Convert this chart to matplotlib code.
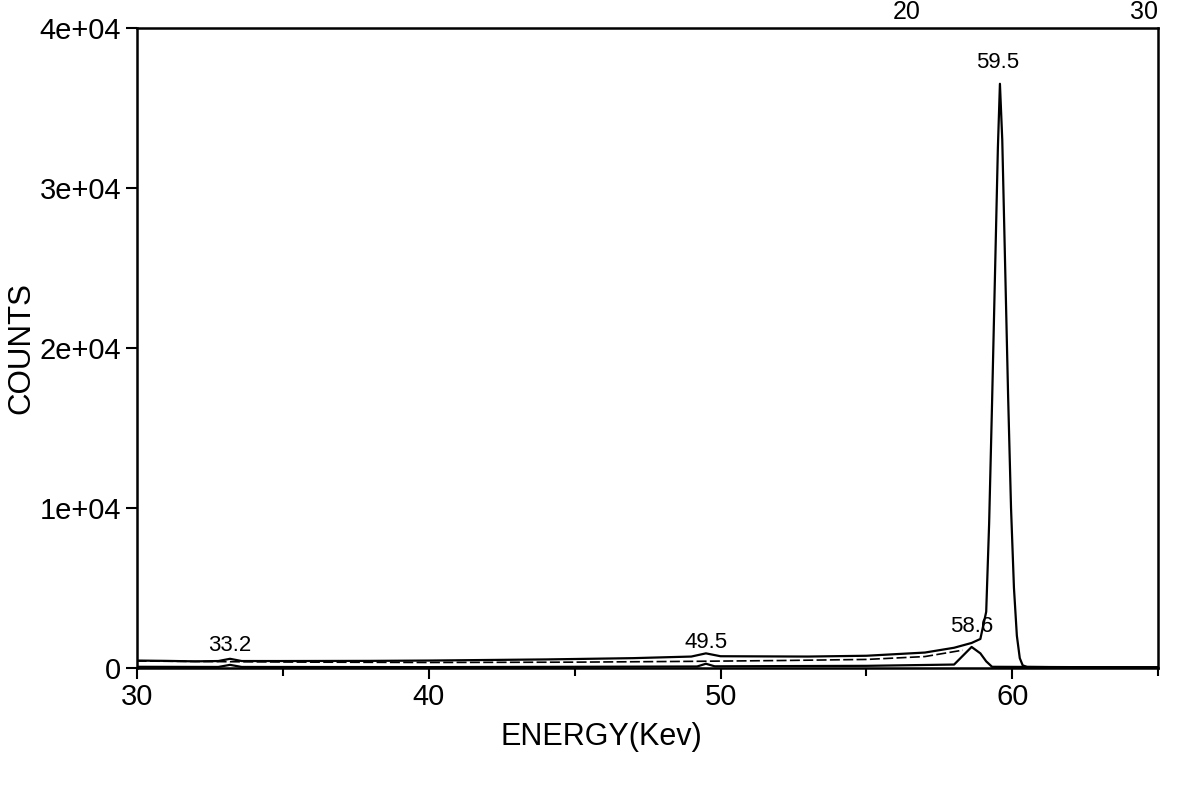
import numpy as np
import matplotlib.pyplot as plt
from matplotlib.ticker import MultipleLocator

plt.rcParams['font.family'] = ['Liberation Sans', 'DejaVu Sans']

# spectrum (upper trace)
energy = [30, 31, 32, 32.8, 33.2, 33.6, 35, 38, 40, 44, 47, 49.0, 49.5, 50.0,
          53, 55, 57, 58.0, 58.6, 58.9, 59.1, 59.2, 59.3, 59.4, 59.5, 59.57,
          59.65, 59.75, 59.85, 59.95, 60.05, 60.15, 60.25, 60.35, 60.5, 62, 65]
counts = [450, 430, 400, 420, 560, 420, 420, 430, 450, 520, 600, 700, 900, 720,
          700, 750, 950, 1250, 1550, 1800, 3500, 9000, 16500, 24500, 32500, 36500,
          33000, 25000, 17000, 10000, 5000, 2000, 600, 150, 50, 30, 30]

# continuum (dashed trace)
cont_energy = [30, 33, 36, 40, 45, 49, 52, 55, 57, 58.3]
cont_counts = [420, 380, 350, 330, 350, 400, 450, 520, 700, 1100]

# baseline (lower trace)
base_energy = [30, 32.8, 33.2, 33.6, 40, 45, 49.2, 49.5, 49.8, 55, 58.0,
               58.6, 58.9, 59.1, 59.3, 62, 65]
base_counts = [60, 50, 180, 50, 40, 60, 80, 250, 90, 120, 200,
               1300, 900, 400, 60, 40, 30]

peak_pos = [33.2, 49.5, 58.6, 59.5]
peak_lbl = ['33.2', '49.5', '58.6', '59.5']
peak_y = [750, 900, 1900, 37200]

fig = plt.figure(figsize=(11.98, 7.94), dpi=100)
ax = fig.add_axes([0.114, 0.159, 0.853, 0.806])

ax.plot(energy, counts, color='black', lw=1.6)
ax.plot(cont_energy, cont_counts, color='black', lw=1.2, ls=(0, (6, 2)))
ax.plot(base_energy, base_counts, color='black', lw=1.6)

for p, t, yy in zip(peak_pos, peak_lbl, peak_y):
    ax.text(p, yy, t, ha='center', va='bottom', fontsize=16)

ax.set_xlim(30, 65)
ax.set_ylim(0, 40000)
ax.set_xticks([30, 40, 50, 60])
ax.xaxis.set_minor_locator(MultipleLocator(5))
ax.set_yticks([0, 10000, 20000, 30000, 40000])
ax.set_yticklabels(['0', '1e+04', '2e+04', '3e+04', '4e+04'])

ax.tick_params(axis='both', which='major', labelsize=21, direction='out',
               length=8, width=1.5, pad=3)
ax.tick_params(axis='x', which='minor', direction='out', length=6, width=1.5)
for s in ax.spines.values():
    s.set_linewidth(1.8)

ax.set_xlabel('ENERGY(Kev)', fontsize=22)
ax.xaxis.set_label_coords(0.455, -0.084)
ax.set_ylabel('COUNTS', fontsize=22.5)
ax.yaxis.set_label_coords(-0.098, 0.5)

# stray numbers at the top edge of the scan
fig.text(0.757, 1.0, '20', fontsize=18, ha='center', va='top')
fig.text(0.955, 1.0, '30', fontsize=18, ha='center', va='top')

fig.savefig('out.png', dpi=100)
